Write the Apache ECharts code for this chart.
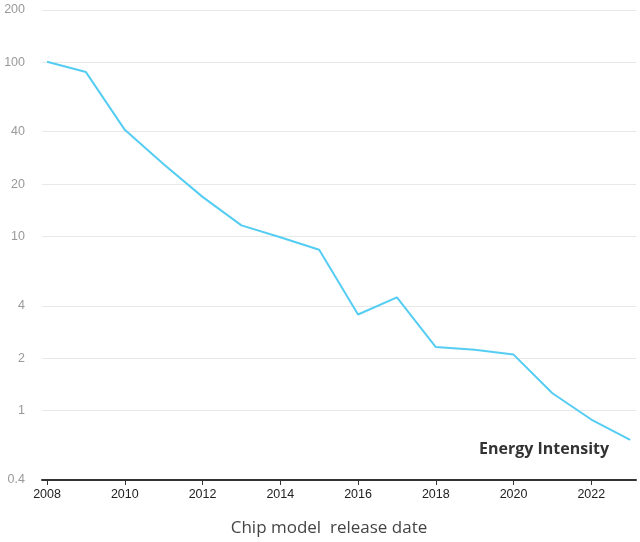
<!DOCTYPE html>
<html>
<head>
<meta charset="utf-8">
<script src="https://cdn.jsdelivr.net/npm/echarts@6/dist/echarts.min.js"></script>
<style>html,body{margin:0;padding:0;background:#fff}#c{width:640px;height:542px}</style>
</head>
<body>
<div id="c"></div>
<script>
var years = [2008,2009,2010,2011,2012,2013,2014,2015,2016,2017,2018,2019,2020,2021,2022,2023];
var energyIntensity = [101,88,41,26,16.9,11.6,9.9,8.4,3.57,4.47,2.32,2.24,2.1,1.26,0.89,0.68];
var xTicks = [2008,2010,2012,2014,2016,2018,2020,2022];
var yTicks = [0.4,1,2,4,10,20,40,100,200];

var chart = echarts.init(document.getElementById('c'));
chart.setOption({
  animation: false,
  grid: {left: 42, right: 4, top: 10, bottom: 62, containLabel: false},
  title: {
    text: 'Energy Intensity', left: 474, top: 436,
    textStyle: {fontFamily: 'Open Sans', fontSize: 16, fontWeight: 'bold', color: '#333'}
  },
  xAxis: {
    type: 'value', min: 2007.87, max: 2023.15,
    name: 'Chip model  release date', nameLocation: 'middle', nameGap: 40,
    nameTextStyle: {fontFamily: 'Open Sans', fontSize: 17, color: '#444', padding: [0, 20, 0, 0]},
    axisLine: {lineStyle: {color: '#333', width: 2}},
    axisTick: {show: true, length: 5, lineStyle: {color: '#333'}, customValues: xTicks},
    axisLabel: {customValues: xTicks, color: '#222', fontFamily: 'Liberation Sans', fontSize: 12.5, margin: 8,
      formatter: function (v) { return String(v); }},
    splitLine: {show: false}
  },
  yAxis: {
    type: 'log', min: 0.4, max: 200,
    axisLine: {show: false},
    axisTick: {show: false, customValues: yTicks},
    axisLabel: {customValues: yTicks, color: '#999', fontFamily: 'Liberation Sans', fontSize: 12.5, margin: 17},
    splitLine: {show: true, lineStyle: {color: '#e8e8e8', width: 1}}
  },
  series: [{
    type: 'line',
    data: years.map(function (y, i) { return [y, energyIntensity[i]]; }),
    showSymbol: false,
    lineStyle: {color: '#55cdf3', width: 2},
    itemStyle: {color: '#55cdf3'}
  }]
});
</script>
</body>
</html>
